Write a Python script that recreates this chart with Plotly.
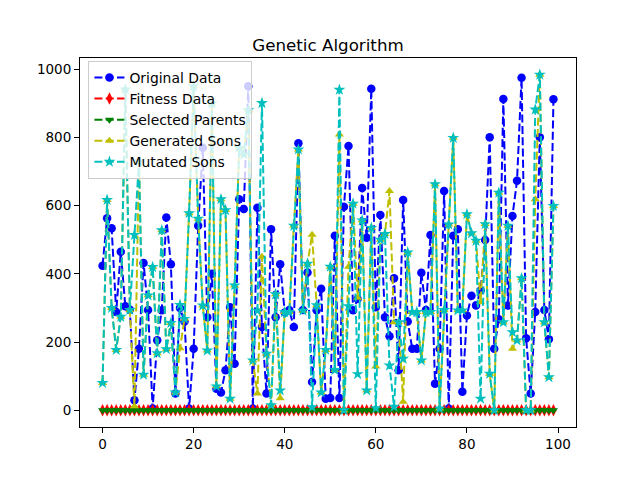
import plotly.graph_objects as go

idx = list(range(100))

original_data = [424, 563, 534, 288, 465, 305, 295, 29, 180, 432,
                 294, 5, 205, 293, 565, 428, 49, 300, 260, 5,
                 180, 541, 770, 273, 400, 63, 52, 117, 302, 136,
                 619, 590, 950, 5, 594, 244, 49, 531, 273, 428,
                 287, 294, 244, 783, 294, 404, 83, 293, 356, 34,
                 36, 512, 36, 597, 775, 293, 326, 652, 506, 943,
                 302, 573, 273, 217, 387, 117, 617, 260, 180, 180,
                 403, 294, 514, 78, 180, 643, 5, 512, 531, 54,
                 278, 336, 307, 351, 499, 801, 180, 267, 913, 307,
                 570, 673, 975, 211, 49, 288, 801, 294, 208, 912]

fitness_data = [0, 0, 0, 0, 0, 0, 0, 0, 0, 0,
                0, 0, 0, 0, 0, 0, 0, 0, 0, 0,
                0, 0, 0, 0, 0, 0, 0, 0, 0, 0,
                0, 0, 0, 0, 0, 0, 0, 0, 0, 0,
                0, 0, 0, 0, 0, 0, 0, 0, 0, 0,
                0, 0, 0, 0, 0, 0, 0, 0, 0, 0,
                0, 0, 0, 0, 0, 0, 0, 0, 0, 0,
                0, 0, 0, 0, 0, 0, 0, 0, 0, 0,
                0, 0, 0, 0, 0, 0, 0, 0, 0, 0,
                0, 0, 0, 0, 0, 0, 0, 0, 0, 0]

selected_parents = [0, 0, 0, 0, 0, 0, 0, 0, 0, 0,
                    0, 0, 0, 0, 0, 0, 0, 0, 0, 0,
                    0, 0, 0, 0, 0, 0, 0, 0, 0, 0,
                    0, 0, 0, 0, 0, 0, 0, 0, 0, 0,
                    0, 0, 0, 0, 0, 0, 0, 0, 0, 0,
                    0, 0, 0, 0, 0, 0, 0, 0, 0, 0,
                    0, 0, 0, 0, 0, 0, 0, 0, 0, 0,
                    0, 0, 0, 0, 0, 0, 0, 0, 0, 0,
                    0, 0, 0, 0, 0, 0, 0, 0, 0, 0,
                    0, 0, 0, 0, 0, 0, 0, 0, 0, 0]

generated_sons = [80, 617, 300, 177, 274, 941, 294, 12, 730, 104,
                  337, 420, 167, 528, 179, 256, 52, 182, 268, 578,
                  950, 562, 307, 175, 900, 70, 619, 587, 34, 366,
                  770, 750, 880, 146, 49, 450, 166, 15, 340, 35,
                  288, 288, 541, 765, 292, 430, 515, 308, 52, 177,
                  421, 118, 809, 0, 421, 606, 330, 557, 58, 535,
                  128, 500, 517, 643, 258, 258, 25, 463, 288, 288,
                  146, 288, 288, 663, 5, 294, 545, 799, 293, 293,
                  575, 519, 497, 317, 546, 107, 0, 638, 258, 541,
                  180, 205, 387, 0, 0, 619, 984, 258, 97, 599]

mutated_sons = [80, 617, 300, 177, 274, 941, 294, 514, 730, 104,
                337, 420, 167, 528, 179, 256, 52, 309, 268, 578,
                950, 562, 307, 175, 900, 70, 619, 587, 34, 366,
                770, 750, 880, 146, 292, 901, 166, 15, 340, 58,
                288, 288, 541, 765, 292, 430, 9, 308, 52, 177,
                421, 118, 940, 0, 305, 606, 106, 557, 58, 535,
                6, 500, 517, 131, 10, 258, 151, 463, 288, 288,
                146, 288, 288, 663, 5, 294, 545, 799, 293, 293,
                575, 519, 497, 34, 546, 107, 0, 638, 258, 541,
                229, 205, 387, 0, 0, 882, 984, 258, 97, 599]

x_ticks = [0, 20, 40, 60, 80, 100]
y_ticks = [0, 200, 400, 600, 800, 1000]

FONT = "DejaVu Sans"
DASH = "8px,3.3px"

series = [
    ("Original Data", original_data, "#0000ff", "circle", 8.5),
    ("Fitness Data", fitness_data, "#ff0000", "diamond-tall", 9),
    ("Selected Parents", selected_parents, "#008000", "triangle-down", 8),
    ("Generated Sons", generated_sons, "#bfbf00", "triangle-up", 8),
    ("Mutated Sons", mutated_sons, "#00bfbf", "star", 9),
]

fig = go.Figure()
for name, vals, color, sym, size in series:
    fig.add_trace(go.Scatter(
        x=idx, y=vals, mode="lines+markers", name=name,
        line=dict(color=color, width=2, dash=DASH),
        marker=dict(color=color, symbol=sym, size=size, line=dict(width=0)),
    ))

axis_common = dict(
    showgrid=False, zeroline=False, showline=True, linecolor="black",
    linewidth=1, mirror=True, ticks="outside", ticklen=5, tickwidth=1,
    tickcolor="black", tickfont=dict(family=FONT, size=13.5, color="black"),
)

fig.update_layout(
    width=640, height=480,
    margin=dict(l=72, r=72, t=50, b=61),
    paper_bgcolor="white", plot_bgcolor="white",
    title=dict(text="Genetic Algorithm", x=0.5, xanchor="center",
               y=1 - 43 / 480, yanchor="bottom", yref="container",
               font=dict(family=FONT, size=16.7, color="black")),
    xaxis=dict(range=[-4.95, 103.95], tickvals=x_ticks, **axis_common),
    yaxis=dict(range=[-49.2, 1033.2], tickvals=y_ticks, **axis_common),
    legend=dict(x=0.017, y=0.992, xanchor="left", yanchor="top",
                bgcolor="rgba(255,255,255,0.8)", bordercolor="#cccccc",
                borderwidth=1, font=dict(family=FONT, size=13.9, color="black"),
                tracegroupgap=0, itemwidth=30),
    showlegend=True,
)

fig.write_html("out.html")
